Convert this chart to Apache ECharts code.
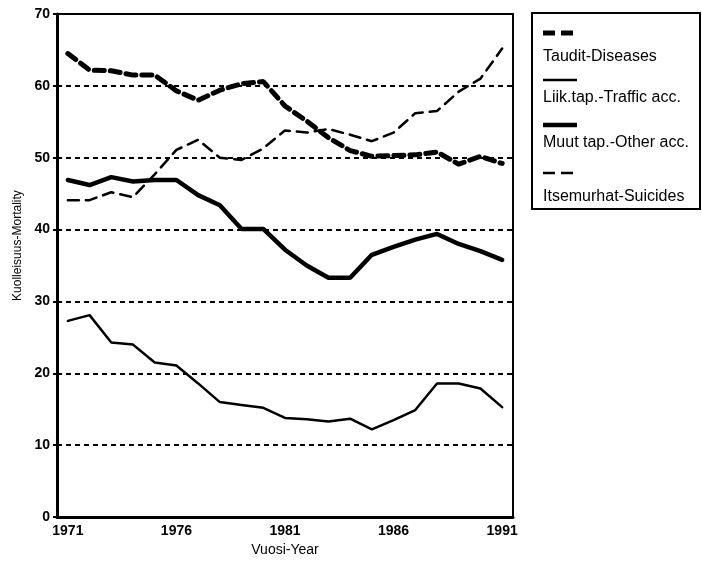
<!DOCTYPE html>
<html><head><meta charset="utf-8">
<script src="https://cdn.jsdelivr.net/npm/echarts@6/dist/echarts.min.js"></script>
<style>html,body{margin:0;padding:0;background:#fff}#c{width:702px;height:562px}</style>
</head><body><div id="c"></div>
<script>
const years = ['1971','1972','1973','1974','1975','1976','1977','1978','1979','1980','1981','1982','1983','1984','1985','1986','1987','1988','1989','1990','1991'];
const yTicks = [0,10,20,30,40,50,60,70];
const diseases = [64.5,62.2,62.1,61.5,61.5,59.3,58.0,59.4,60.3,60.6,57.2,55.1,52.8,51.0,50.2,50.3,50.4,50.8,49.1,50.2,49.2];
const traffic  = [27.3,28.1,24.3,24.0,21.5,21.1,18.6,16.0,15.6,15.2,13.8,13.6,13.3,13.7,12.2,13.5,14.9,18.6,18.6,17.9,15.3];
const otherAcc = [46.9,46.2,47.3,46.7,46.9,46.9,44.8,43.4,40.1,40.1,37.2,35.0,33.3,33.3,36.5,37.6,38.6,39.4,38.0,37.0,35.8];
const suicides = [44.1,44.1,45.2,44.5,47.7,51.1,52.5,50.0,49.7,51.3,53.8,53.5,54.0,53.2,52.3,53.5,56.2,56.5,59.2,61.0,65.2];
const names = ['Taudit-Diseases','Liik.tap.-Traffic acc.','Muut tap.-Other acc.','Itsemurhat-Suicides'];

const FONT = 'Liberation Sans, Arial, sans-serif';
const chart = echarts.init(document.getElementById('c'));
const styles = [
  {width:5, type:[10,6]},
  {width:2.5, type:'solid'},
  {width:4.5, type:'solid'},
  {width:2.5, type:[11,7]}
];
const datas = [diseases, traffic, otherAcc, suicides];

const lx = 543, lineLen = 34;
const legendY = [[33,57],[80,98],[125,143],[173,197]];
const graphics = [{type:'rect', shape:{x:532,y:13,width:168,height:196}, style:{fill:'#fff', stroke:'#000', lineWidth:2}}];
names.forEach((n,i)=>{
  graphics.push({type:'line', shape:{x1:lx,y1:legendY[i][0],x2:lx+lineLen,y2:legendY[i][0]},
    style:{stroke:'#000', lineWidth:styles[i].width, lineDash: styles[i].type==='solid'?null:[12,6]}});
  graphics.push({type:'text', x:lx, y:legendY[i][1], style:{text:n, fill:'#000', font:'16px '+FONT, textVerticalAlign:'middle'}});
});

chart.setOption({
  animation:false,
  backgroundColor:'#fff',
  grid:{left:57,right:189,top:14,bottom:39,show:true,borderColor:'#000',borderWidth:2},
  xAxis:{type:'category',data:years,boundaryGap:true,
    name:'Vuosi-Year',nameLocation:'middle',nameGap:25,
    nameTextStyle:{color:'#000',fontSize:14,fontFamily:FONT},
    axisLine:{lineStyle:{color:'#000',width:3}},
    axisTick:{inside:true,alignWithLabel:true,interval:0,length:5,lineStyle:{color:'#000',width:2}},
    axisLabel:{interval:4,color:'#000',fontSize:14,fontWeight:'bold',fontFamily:FONT,margin:7},
    splitLine:{show:false}},
  yAxis:{type:'value',min:yTicks[0],max:yTicks[yTicks.length-1],interval:10,
    name:'Kuolleisuus-Mortality',nameLocation:'middle',nameGap:33,nameRotate:90,
    nameTextStyle:{color:'#000',fontSize:12,fontFamily:FONT,padding:[0,0,0,40]},
    axisLine:{show:true,lineStyle:{color:'#000',width:3}},
    axisTick:{show:true,length:4,lineStyle:{color:'#000',width:2}},
    axisLabel:{color:'#000',fontSize:14,fontWeight:'bold',fontFamily:FONT,margin:7},
    splitLine:{show:true,lineStyle:{color:'#000',width:2,type:[5,4]}}},
  series: names.map((n,i)=>({name:n,type:'line',data:datas[i],symbol:'none',
    lineStyle:{color:'#000',width:styles[i].width,type:styles[i].type,cap:'round'}})),
  graphic: graphics
});
</script></body></html>
